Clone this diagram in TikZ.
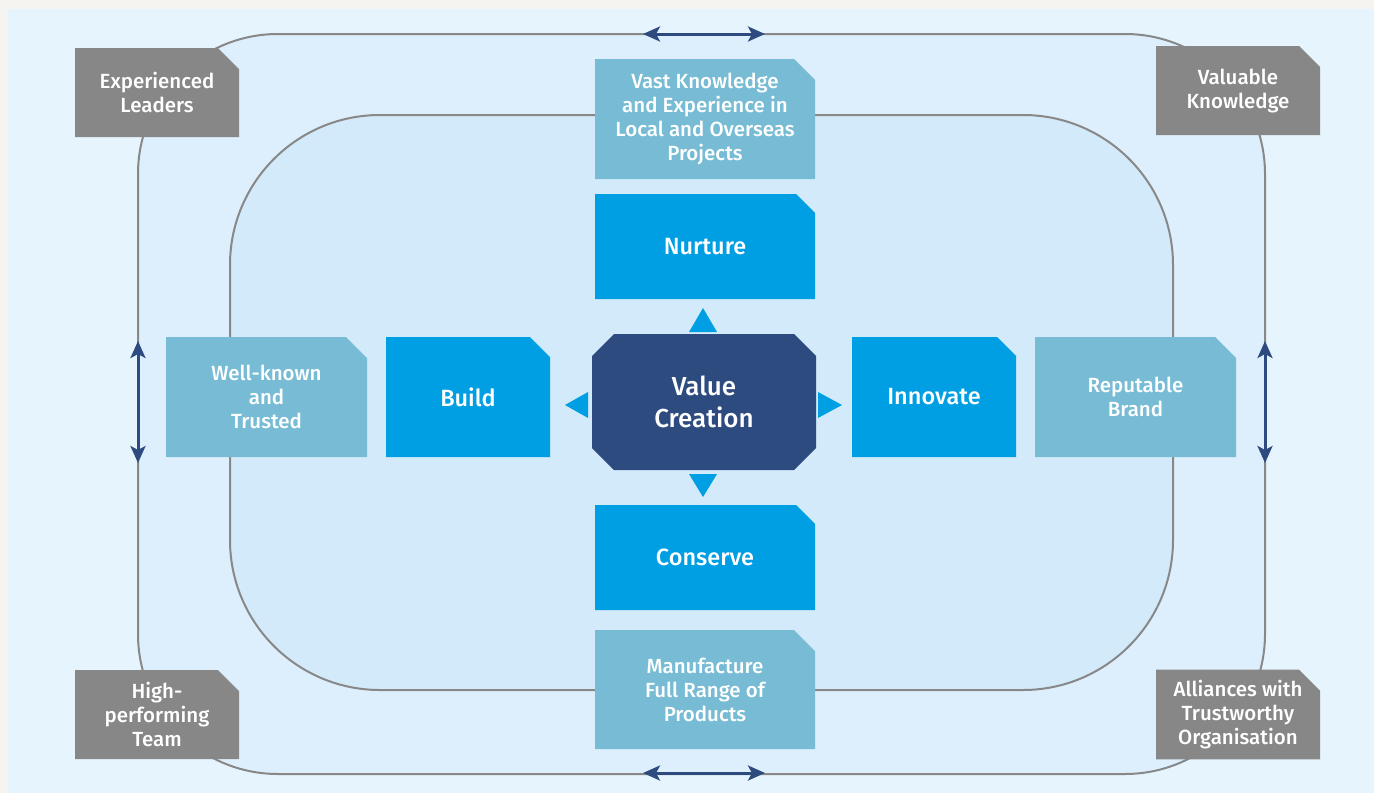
\documentclass[tikz,border=0pt]{standalone}
\usepackage{fontspec}
\setmainfont{Fira Sans}[BoldFont={Fira Sans Medium}]
\usetikzlibrary{shapes.misc,arrows.meta}

\definecolor{pagebg}{HTML}{F6F4F1}
\definecolor{panelblue}{HTML}{E6F4FD}
\definecolor{ringblue}{HTML}{DDEFFC}
\definecolor{coreblue}{HTML}{D3EAFA}
\definecolor{ringgray}{HTML}{888888}
\definecolor{capgray}{HTML}{878787}
\definecolor{assetteal}{HTML}{77BCD4}
\definecolor{actionblue}{HTML}{009FE3}
\definecolor{navy}{HTML}{2E4B80}

\tikzset{
  box/.style={chamfered rectangle, chamfered rectangle corners=north east,
    chamfered rectangle sep=10.5pt, inner sep=0pt, text=white, align=center,
    font=\fontsize{20.5}{24}\selectfont\bfseries},
  capital/.style={box, fill=capgray, minimum width=164pt, minimum height=89pt},
  asset/.style={box, fill=assetteal},
  action/.style={box, fill=actionblue, font=\fontsize{23.5}{28}\selectfont\bfseries},
  twoway/.style={draw=navy, line width=3pt,
    {Stealth[length=17pt,width=15pt,inset=4pt,fill=navy]}-{Stealth[length=17pt,width=15pt,inset=4pt,fill=navy]}},
  ring/.style={draw=ringgray, line width=2pt}
}

\begin{document}
\begin{tikzpicture}[x=1pt, y=-1pt]
\useasboundingbox (0,0) rectangle (1374,793);
\fill[pagebg] (0,0) rectangle (1374,793);
\fill[panelblue] (8,9) rectangle (1374,793);

% rings
\draw[ring, fill=ringblue, rounded corners=140pt] (138,34) rectangle (1265,774);
\draw[ring, fill=coreblue, rounded corners=150pt] (230,115) rectangle (1173,690);

% two-way arrows on the outer ring
\coordinate (topL) at (643,34);
\coordinate (topR) at (765,34);
\coordinate (botL) at (643,773);
\coordinate (botR) at (765,773);
\coordinate (leftT) at (138,341);
\coordinate (leftB) at (138,463);
\coordinate (rightT) at (1265,341);
\coordinate (rightB) at (1265,463);
\draw[twoway] (topL) -- (topR);
\draw[twoway] (botL) -- (botR);
\draw[twoway] (leftT) -- (leftB);
\draw[twoway] (rightT) -- (rightB);

% capitals
\node[capital] (leaders) at (157,92.5) {Experienced\\Leaders};
\node[capital] (knowledge) at (1238,90.5) {Valuable\\Knowledge};
\node[capital] (team) at (157,714.5) {High-\\performing\\Team};
\node[capital] (alliances) at (1238,714.5) {Alliances with\\Trustworthy\\Organisation};

% assets
\node[asset, minimum width=220pt, minimum height=120pt] (vast) at (705,119)
  {Vast Knowledge\\and Experience in\\Local and Overseas\\Projects};
\node[asset, minimum width=220pt, minimum height=119pt] (manufacture) at (705,689.5)
  {Manufacture\\Full Range of\\Products};
\node[asset, minimum width=201pt, minimum height=120pt] (trusted) at (266.5,397)
  {Well-known\\and\\Trusted};
\node[asset, minimum width=201pt, minimum height=120pt] (brand) at (1135.5,397)
  {Reputable\\Brand};

% actions
\node[action, minimum width=220pt, minimum height=105pt] (nurture) at (705,246.5) {Nurture};
\node[action, minimum width=220pt, minimum height=105pt] (conserve) at (705,557.5) {Conserve};
\node[action, minimum width=164pt, minimum height=120pt] (build) at (468,397) {Build};
\node[action, minimum width=164pt, minimum height=120pt] (innovate) at (934,397) {Innovate};

% centre
\node[chamfered rectangle, chamfered rectangle sep=11pt, fill=navy, text=white,
  align=center, inner sep=0pt, minimum width=224pt, minimum height=136pt,
  font=\fontsize{26}{32}\selectfont\bfseries] (value) at (704,402) {Value\\Creation};

% pointers
\fill[actionblue] (689,332) -- (717,332) -- (703,308) -- cycle;
\fill[actionblue] (689,474) -- (717,474) -- (703,497) -- cycle;
\fill[actionblue] (588,392) -- (588,418) -- (565,405) -- cycle;
\fill[actionblue] (818,392) -- (818,418) -- (842,405) -- cycle;
\end{tikzpicture}
\end{document}
